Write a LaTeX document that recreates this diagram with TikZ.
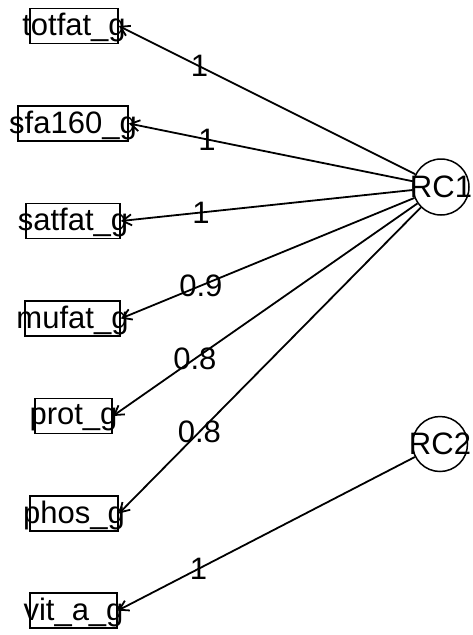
\documentclass[tikz,border=0pt]{standalone}
\usepackage{fontspec}
\setmainfont{Liberation Sans}
\usetikzlibrary{arrows.meta,calc}
\begin{document}
\begin{tikzpicture}[x=1pt,y=-1pt,
 obsbox/.style={draw, line width=1.7pt, rectangle, minimum height=35pt, inner sep=0pt},
 lbl/.style={font=\fontsize{31}{31}\selectfont, inner sep=0pt},
 fac/.style={draw, circle, line width=1.5pt, minimum size=56pt, inner sep=0pt},
 load/.style={line width=1.8pt, -{Straight Barb[length=9pt,width=11pt,line width=1.8pt]}}]
\useasboundingbox (0,0) rectangle (472,635);
% observed variables
\node[obsbox, minimum width=88pt] (b1) at (74,26) {};
\node[lbl] (t1) at ([yshift=-1.5pt]b1.center) {totfat\_g};
\node[obsbox, minimum width=110pt] (b2) at (73,123.5) {};
\node[lbl] (t2) at ([yshift=-1.5pt]b2.center) {sfa160\_g};
\node[obsbox, minimum width=94pt] (b3) at (73,221) {};
\node[lbl] (t3) at ([yshift=-1.5pt]b3.center) {satfat\_g};
\node[obsbox, minimum width=95pt] (b4) at (72.5,318.5) {};
\node[lbl] (t4) at ([yshift=-1.5pt]b4.center) {mufat\_g};
\node[obsbox, minimum width=77pt] (b5) at (73.5,416) {};
\node[lbl] (t5) at ([yshift=-1.5pt]b5.center) {prot\_g};
\node[obsbox, minimum width=88pt] (b6) at (74,513.5) {};
\node[lbl] (t6) at ([yshift=-1.5pt]b6.center) {phos\_g};
\node[obsbox, minimum width=87pt] (b7) at (73.5,610.5) {};
\node[lbl] (t7) at ([yshift=-1.5pt]b7.center) {vit\_a\_g};
% factors
\node[fac] (rc1) at (441,187) {};
\node[lbl] (rc1t) at (rc1.center) {RC1};
\node[fac, minimum size=55pt] (rc2) at (440,444) {};
\node[lbl] (rc2t) at (rc2.center) {RC2};
% loadings
\draw[load] (rc1) -- (b1.east);
\draw[load] (rc1) -- (b2.east);
\draw[load] (rc1) -- (b3.east);
\draw[load] (rc1) -- (b4.east);
\draw[load] (rc1) -- (b5.east);
\draw[load] (rc1) -- (b6.east);
\draw[load] (rc2) -- (b7.east);
\node[lbl] (l1) at ($(rc1.center)!0.75!(b1.east)$) {1};
\node[lbl] (l2) at ($(rc1.center)!0.75!(b2.east)$) {1};
\node[lbl] (l3) at ($(rc1.center)!0.75!(b3.east)$) {1};
\node[lbl] (l4) at ($(rc1.center)!0.75!(b4.east)$) {0.9};
\node[lbl] (l5) at ($(rc1.center)!0.75!(b5.east)$) {0.8};
\node[lbl] (l6) at ($(rc1.center)!0.75!(b6.east)$) {0.8};
\node[lbl] (l7) at ($(rc2.center)!0.75!(b7.east)$) {1};
\end{tikzpicture}
\end{document}
